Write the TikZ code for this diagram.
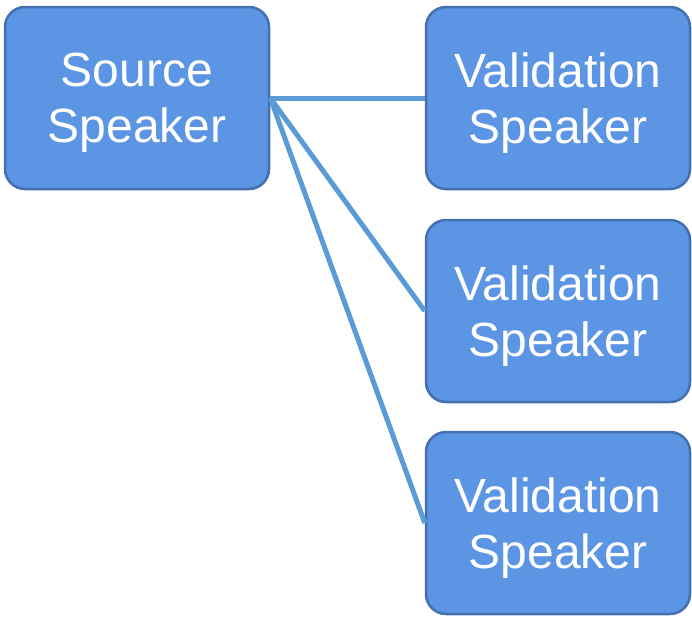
\documentclass[tikz,border=0pt]{standalone}
\usepackage{fontspec}
\setmainfont{Liberation Sans}
\definecolor{boxfill}{RGB}{93,149,229}
\definecolor{boxline}{RGB}{68,112,178}
\definecolor{conn}{RGB}{91,155,213}
\begin{document}
\begin{tikzpicture}[x=1pt,y=-1pt,
  spk/.style={draw=boxline, line width=2.5pt, fill=boxfill, rounded corners=20pt,
    minimum width=264pt, minimum height=182pt, inner sep=0pt, text depth=0pt,
    text=white, align=center, font=\fontsize{48}{56}\selectfont},
  link/.style={draw=conn, line width=5pt}]
\useasboundingbox (0,0) rectangle (692,616);
\node[spk] (src) at (137,98) {Source\\Speaker};
\node[spk] (v1) at (558,98) {Validation\\Speaker};
\node[spk] (v2) at (558,311) {Validation\\Speaker};
\node[spk] (v3) at (558,523) {Validation\\Speaker};
\draw[link] (src.east) -- (v1.west);
\draw[link] (src.east) -- (v2.west);
\draw[link] (src.east) -- (v3.west);
\end{tikzpicture}
\end{document}
